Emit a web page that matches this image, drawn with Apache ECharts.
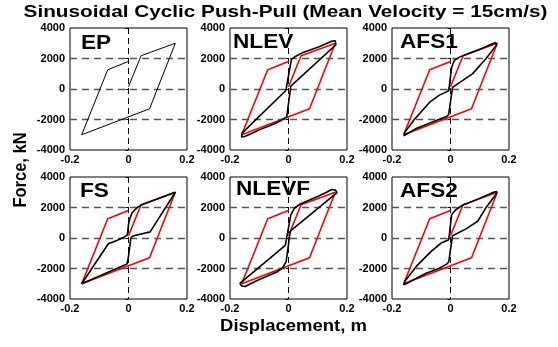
<!DOCTYPE html>
<html>
<head>
<meta charset="utf-8">
<script src="https://cdn.jsdelivr.net/npm/echarts@6.0.0/dist/echarts.min.js"></script>
<style>
html,body{margin:0;padding:0;background:#fff;}
#chart{width:558px;height:347px;}
</style>
</head>
<body>
<div id="chart"></div>
<script>
// ---------- data ----------
const chartTitle = 'Sinusoidal Cyclic Push-Pull (Mean Velocity = 15cm/s)';
const xAxisTitle = 'Displacement, m';
const yAxisTitle = 'Force, kN';
const panelNames = ['EP', 'NLEV', 'AFS1', 'FS', 'NLEVF', 'AFS2'];
const xTicks = [-0.2, 0, 0.2];
const yTicks = [-4000, -2000, 0, 2000, 4000];

// reference elasto-plastic loop (black in EP, red elsewhere)
const epLoop = [[0,150],[0.043,2180],[0.16,3000],[0.072,-1300],[-0.16,-3000],[-0.071,1260],[0,1810]];

const nlevLoop = [[-0.009,-100],[0.01,1940],[0.025,2150],[0.05,2400],[0.1,2730],[0.13,2980],[0.15,3150],[0.16,3160],[0.166,3050],[0.162,2900],
  [0.008,190],[-0.006,-1830],[-0.025,-2060],[-0.05,-2300],[-0.1,-2680],[-0.13,-2950],[-0.15,-3120],[-0.16,-3150],[-0.166,-3050],[-0.158,-2880],[-0.009,-100]];

const afs1Loop = [[-0.006,-110],[0.004,1430],[0.013,1870],[0.03,2090],[0.064,2350],[0.109,2680],[0.143,2970],[0.155,3040],[0.16,2980],[0.157,2870],
  [0.121,1980],[0.075,990],[0.041,550],[0.007,110],
  [-0.006,-1650],[-0.013,-1800],[-0.038,-1980],[-0.072,-2240],[-0.117,-2590],[-0.151,-2970],[-0.159,-3080],[-0.162,-2980],[-0.157,-2860],
  [-0.123,-1980],[-0.072,-880],[-0.038,-400],[-0.006,-110]];

const fsLoop = [[-0.011,100],[-0.004,200],[0.0,900],[0.005,1300],[0.012,1650],[0.03,2000],[0.046,2180],[0.16,3000],
  [0.074,400],[0.04,250],[0.015,130],[0.008,0],[0.0,-1200],[-0.005,-1700],[-0.008,-1820],[-0.16,-3000],
  [-0.069,-380],[-0.04,-160],[-0.011,100]];

const nlevfLoop = [[-0.011,-490],[0.008,1520],[0.02,1950],[0.04,2230],[0.1,2720],[0.13,3000],[0.148,3180],[0.16,3150],[0.166,2980],[0.16,2850],
  [0.006,450],[-0.008,-1550],[-0.02,-1950],[-0.04,-2230],[-0.1,-2720],[-0.13,-3000],[-0.148,-3180],[-0.16,-3150],[-0.166,-2980],[-0.155,-2800],[-0.011,-490]];

const afs2Loop = [[-0.006,-110],[0.004,1540],[0.019,1870],[0.041,2150],[0.087,2500],[0.13,2850],[0.15,3020],[0.158,3040],[0.162,2960],[0.155,2850],
  [0.121,1980],[0.093,1100],[0.053,600],[0.007,150],
  [-0.006,-1550],[-0.012,-1700],[-0.038,-1980],[-0.083,-2310],[-0.128,-2750],[-0.152,-3000],[-0.16,-3070],[-0.163,-2980],[-0.155,-2800],
  [-0.112,-1760],[-0.066,-880],[-0.032,-330],[-0.006,-110]];

const modelLoops = [null, nlevLoop, afs1Loop, fsLoop, nlevfLoop, afs2Loop];

// ---------- layout ----------
const FONT = '"Liberation Sans", Arial, Helvetica, sans-serif';
const gridLefts = [70, 230, 392];
const gridTops = [28, 177];
const GW = 117, GH = 122;
const labelPos = [[81,43],[233,42],[400,42.5],[80,191],[236,189],[400,191.5]];

const grids = [], xAxes = [], yAxes = [], series = [];
panelNames.forEach((name, i) => {
  const col = i % 3, row = Math.floor(i / 3);
  grids.push({left: gridLefts[col], top: gridTops[row], width: GW, height: GH,
    show: true, borderColor: '#000', borderWidth: 1, backgroundColor: 'transparent',
    containLabel: false, outerBoundsMode: 'none'});
  xAxes.push({type: 'value', gridIndex: i, min: xTicks[0], max: xTicks[xTicks.length-1], interval: 0.2,
    axisLine: {show: false}, axisTick: {show: false},
    axisLabel: {show: true, showMinLabel: true, showMaxLabel: true, margin: 4, fontSize: 11, fontWeight: 'bold', color: '#000', fontFamily: FONT,
      formatter: v => (Math.abs(v) < 1e-9 ? '0' : v.toFixed(1))},
    splitLine: {show: true, showMinLine: false, showMaxLine: false, lineStyle: {type: [6,4], color: '#000', width: 1}}});
  yAxes.push({type: 'value', gridIndex: i, min: yTicks[0], max: yTicks[yTicks.length-1], interval: 2000,
    axisLine: {show: false}, axisTick: {show: true, length: 3, lineStyle: {color: '#000'}},
    axisLabel: {show: true, showMinLabel: true, showMaxLabel: true, margin: 5, fontSize: 11, fontWeight: 'bold', color: '#000', fontFamily: FONT,
      formatter: v => String(Math.round(v))},
    splitLine: {show: true, showMinLine: false, showMaxLine: false, lineStyle: {type: [7,5], color: '#555', width: 1.3}}});
  if (i === 0) {
    series.push({type: 'line', xAxisIndex: i, yAxisIndex: i, data: epLoop, showSymbol: false, symbol: 'none',
      lineStyle: {color: '#000', width: 1}, z: 3});
  } else {
    series.push({type: 'line', xAxisIndex: i, yAxisIndex: i, data: epLoop, showSymbol: false, symbol: 'none',
      lineStyle: {color: '#ff0000', width: 1.6}, z: 3});
    series.push({type: 'line', xAxisIndex: i, yAxisIndex: i, data: modelLoops[i], showSymbol: false, symbol: 'none',
      lineStyle: {color: '#000', width: 1.6}, z: 4});
  }
});

function txt(text, x, y, size, opts) {
  opts = opts || {};
  return Object.assign({type: 'text', x: x, y: y, z: 10,
    style: {text: text, font: 'bold ' + size + 'px ' + FONT, fill: '#000',
      align: opts.align || 'left', textAlign: opts.align || 'left',
      verticalAlign: 'middle', textVerticalAlign: 'middle'}}, opts.el || {});
}

const graphics = [
  txt(chartTitle, 285.5, 12, 17, {align: 'center', el: {scaleX: 1.22}}),
  txt(xAxisTitle, 293.5, 327, 16, {align: 'center', el: {scaleX: 1.155}}),
  txt(yAxisTitle, 21, 170, 16.5, {align: 'center', el: {rotation: Math.PI / 2, scaleY: 1.12}})
];
panelNames.forEach((name, i) => {
  graphics.push(txt(name, labelPos[i][0], labelPos[i][1], 20, {el: {scaleX: 1.13}}));
});

const chart = echarts.init(document.getElementById('chart'), null, {renderer: 'canvas'});
chart.setOption({
  animation: false,
  backgroundColor: '#fff',
  grid: grids,
  xAxis: xAxes,
  yAxis: yAxes,
  series: series,
  graphic: graphics
});
</script>
</body>
</html>
